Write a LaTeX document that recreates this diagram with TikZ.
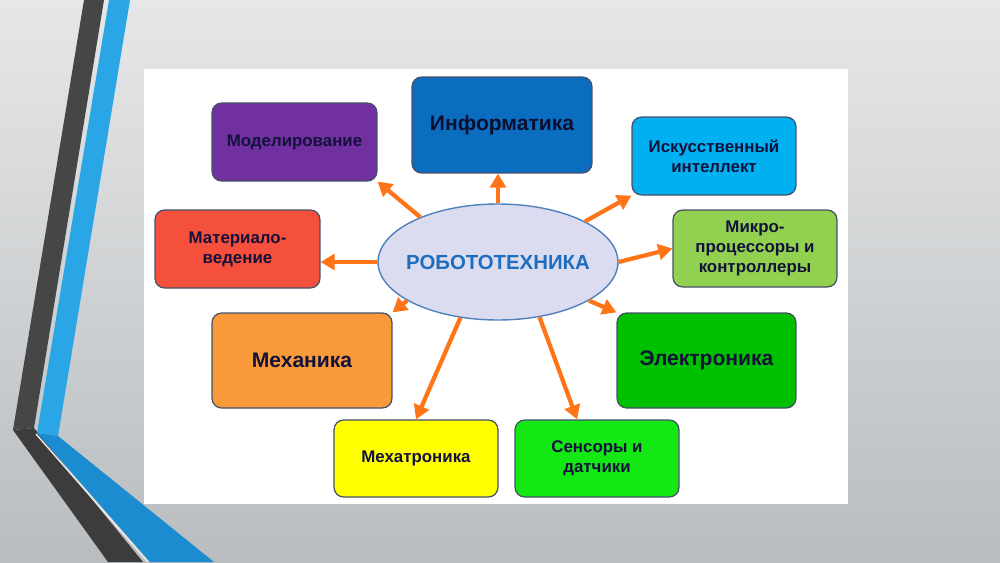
\documentclass[tikz,border=0pt]{standalone}
\usepackage{fontspec}
\setmainfont{Liberation Sans}
\usetikzlibrary{shapes.geometric,arrows.meta}
\definecolor{bgtop}{HTML}{E6E7E8}
\definecolor{bgbot}{HTML}{B9BDC0}
\definecolor{stripedark}{HTML}{464646}
\definecolor{stripedarklow}{HTML}{3C3C3C}
\definecolor{stripeblue}{HTML}{2AA6E6}
\definecolor{stripebluelow}{HTML}{1B8CCF}
\definecolor{cpurple}{HTML}{7030A0}
\definecolor{cinfo}{HTML}{0A6DC0}
\definecolor{cred}{HTML}{F4503C}
\definecolor{cai}{HTML}{00B0F0}
\definecolor{cmicro}{HTML}{92D050}
\definecolor{cmech}{HTML}{F89A3A}
\definecolor{cyel}{HTML}{FFFF00}
\definecolor{csens}{HTML}{14E814}
\definecolor{celec}{HTML}{00C000}
\definecolor{cellfill}{HTML}{DCDCF0}
\definecolor{cellline}{HTML}{4F81BD}
\definecolor{crobo}{HTML}{1F6DBF}
\definecolor{carrow}{HTML}{FF7417}
\definecolor{cborder}{HTML}{44506A}
\definecolor{ctext}{HTML}{12123A}
\tikzset{
  box/.style={draw=cborder, line width=0.7pt, rounded corners=5.5pt, align=center,
    text=ctext, font=\bfseries\fontsize{9.6}{11.5}\selectfont, inner sep=2pt},
  bigbox/.style={box, font=\bfseries\fontsize{12}{14}\selectfont},
  arr/.style={draw=carrow, line width=2.4pt, -{Triangle[length=8pt,width=9pt]}},
}
\begin{document}
\begin{tikzpicture}[x=0.02cm,y=-0.02cm]
\useasboundingbox (0,0) rectangle (1000,562);
% background
\shade[top color=bgtop, bottom color=bgbot] (0,0) rectangle (1000,562);
% decorative stripes
\fill[stripedark] (84,0) -- (104,0) -- (34,428) -- (13,430) -- cycle;
\fill[stripedarklow] (13,430) -- (34,428) -- (143,562) -- (108,562) -- cycle;
\fill[stripeblue] (109,0) -- (130,0) -- (58,436) -- (37,433) -- cycle;
\fill[stripebluelow] (37,433) -- (58,436) -- (214,562) -- (150,562) -- cycle;
\draw[white!85!gray, line width=0.8pt] (36,434) -- (148,562);
% white panel
\fill[white] (144,69) rectangle (848,504);
% nodes
\node[box, fill=cpurple, minimum width=3.30cm, minimum height=1.56cm] (model) at (294.5,142) {Моделирование};
\node[bigbox, fill=cinfo, text=ctext!80!black, minimum width=3.60cm, minimum height=1.92cm] (info) at (502,125) {Информатика};
\node[box, fill=cred, minimum width=3.30cm, minimum height=1.56cm] (mat) at (237.5,249) {Материало-\\ведение};
\node[box, fill=cai, minimum width=3.28cm, minimum height=1.56cm] (ai) at (714,156) {Искусственный\\интеллект};
\node[box, fill=cmicro, minimum width=3.28cm, minimum height=1.54cm] (micro) at (755,248.5) {Микро-\\процессоры и\\контроллеры};
\node[bigbox, fill=cmech, minimum width=3.60cm, minimum height=1.90cm] (mech) at (302,360.5) {Механика};
\node[bigbox, fill=celec, minimum width=3.58cm, minimum height=1.90cm] (elec) at (706.5,360.5) {Электроника};
\node[box, fill=cyel, minimum width=3.28cm, minimum height=1.54cm] (mecha) at (416,458.5) {Мехатроника};
\node[box, fill=csens, minimum width=3.28cm, minimum height=1.54cm] (sens) at (597,458.5) {Сенсоры и\\датчики};
\node[ellipse, draw=cellline, line width=0.8pt, fill=cellfill, inner sep=0pt,
  minimum width=4.8cm, minimum height=2.32cm, text=crobo,
  font=\bfseries\fontsize{11.6}{14}\selectfont] (robo) at (498,262) {\makebox[0pt]{РОБОТОТЕХНИКА}};
% arrows
\draw[arr] (robo.150) -- (model.south east);
\draw[arr] (robo.north) -- (robo.north |- info.south);
\draw[arr] (robo.west) -- (robo.west -| mat.east);
\draw[arr] (robo.25) -- (ai.south west);
\draw[arr] (robo.east) -- (micro.west);
\draw[arr] (robo.203) -- (mech.north east);
\draw[arr] (robo.236) -- (mecha.north);
\draw[arr] (robo.307) -- (sens.117);
\draw[arr] (robo.337) -- (elec.north west);
\end{tikzpicture}
\end{document}
